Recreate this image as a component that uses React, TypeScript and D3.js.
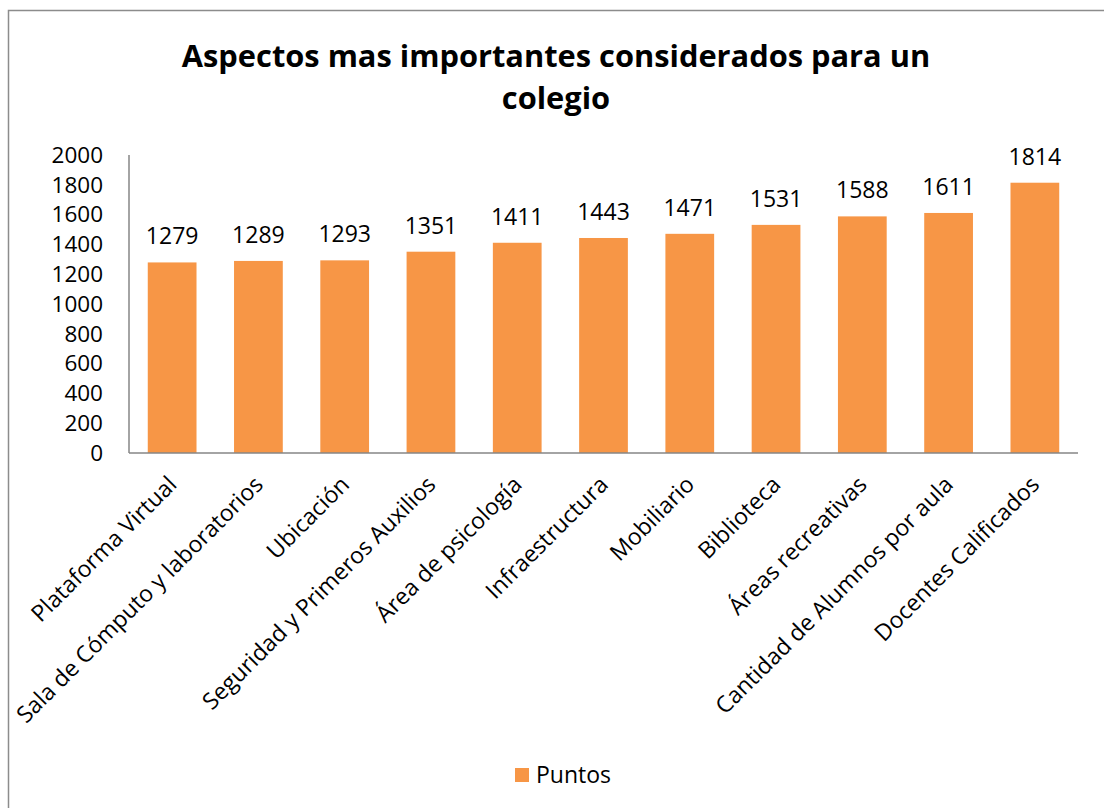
import React from "react";
import * as d3 from "d3";

const categories: string[] = [
  "Plataforma Virtual",
  "Sala de Cómputo y laboratorios",
  "Ubicación",
  "Seguridad y Primeros Auxilios",
  "Área de psicología",
  "Infraestructura",
  "Mobiliario",
  "Biblioteca",
  "Áreas recreativas",
  "Cantidad de Alumnos por aula",
  "Docentes Calificados",
];
const puntos: number[] = [1279, 1289, 1293, 1351, 1411, 1443, 1471, 1531, 1588, 1611, 1814];
const yTicks: number[] = [0, 200, 400, 600, 800, 1000, 1200, 1400, 1600, 1800, 2000];
const titleLines: string[] = ["Aspectos mas importantes considerados para un", "colegio"];
const seriesName = "Puntos";

const W = 1104;
const H = 808;
const FONT = "'Open Sans', 'Noto Sans', sans-serif";
const ORANGE = "#F79646";

export default function App() {
  const left = 129;
  const right = 1078;
  const top = 155;
  const bottom = 453;
  const x = d3.scaleBand<string>().domain(categories).range([left, right]).paddingInner(0.435).paddingOuter(0.2175);
  const y = d3.scaleLinear().domain([0, 2000]).range([bottom, top]);

  return (
    <svg
      width={W}
      height={H}
      style={{ position: "absolute", left: 0, top: 0, background: "#fff" }}
      fontFamily={FONT}
    >
      <rect x={8.5} y={10.5} width={W + 20} height={H + 20} fill="#fff" stroke="#8c8c8c" strokeWidth={1.5} />
      {titleLines.map((t, i) => (
        <text key={i} x={556} y={67 + i * 42} textAnchor="middle" fontSize={30.8} fontWeight="bold" fill="#000">
          {t}
        </text>
      ))}
      {yTicks.map((v) => (
        <text key={v} x={103} y={y(v)} dy="0.35em" textAnchor="end" fontSize={22.5} fill="#000">
          {v}
        </text>
      ))}
      {categories.map((c, i) => (
        <g key={c}>
          <rect x={x(c)!} y={y(puntos[i])} width={x.bandwidth()} height={bottom - y(puntos[i])} fill={ORANGE} />
          <text x={x(c)! + x.bandwidth() / 2} y={y(puntos[i]) - 18} textAnchor="middle" fontSize={23} fill="#000">
            {puntos[i]}
          </text>
          <text
            transform={`translate(${x(c)! + x.bandwidth() / 2 + 6},${bottom + 33}) rotate(-45)`}
            textAnchor="end"
            fontSize={23}
            fill="#000"
          >
            {c}
          </text>
        </g>
      ))}
      <line x1={left} x2={left} y1={top} y2={bottom} stroke="#868686" strokeWidth={1.5} />
      <line x1={left} x2={right} y1={bottom} y2={bottom} stroke="#868686" strokeWidth={1.5} />
      <rect x={515} y={768} width={14} height={14} fill={ORANGE} />
      <text x={536} y={783} fontSize={23} fill="#000">
        {seriesName}
      </text>
    </svg>
  );
}
